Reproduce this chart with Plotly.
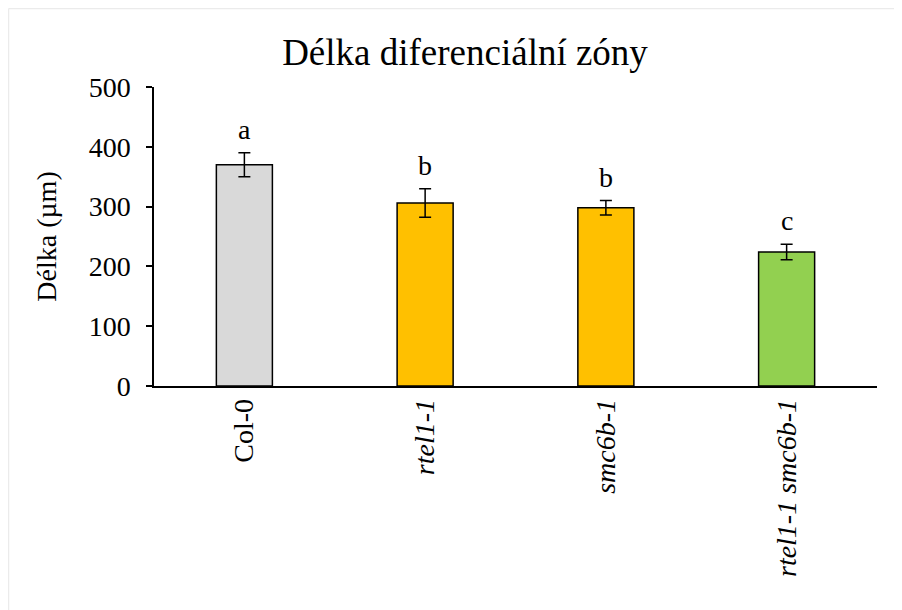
import plotly.graph_objects as go

categories = ["Col-0", "rtel1-1", "smc6b-1", "rtel1-1 smc6b-1"]
tick_labels = ["Col-0", "<i>rtel1-1</i>", "<i>smc6b-1</i>", "<i>rtel1-1 smc6b-1</i>"]
values = [370, 306, 298, 224]
errors = [20, 24, 12, 13]
letters = ["a", "b", "b", "c"]
colors = ["#d9d9d9", "#ffc000", "#ffc000", "#92d050"]

FONT = "Liberation Serif, Times New Roman, serif"

fig = go.Figure()
fig.add_trace(go.Bar(
    x=categories, y=values,
    width=0.31,
    marker=dict(color=colors, line=dict(color="black", width=1.5)),
    error_y=dict(type="data", array=errors, visible=True, color="black", thickness=1.5, width=6),
))

for c, v, e, l in zip(categories, values, errors, letters):
    fig.add_annotation(x=c, y=v + e, text=l, showarrow=False, yanchor="bottom", yshift=6,
                       font=dict(family=FONT, size=28, color="black"))

# light outer frame (top and left edges visible in the reference)
fig.add_shape(type="line", xref="paper", yref="paper", x0=-0.2012, x1=1.3, y0=1.2625, y1=1.2625,
              line=dict(color="#ebebeb", width=1.5), layer="below")
fig.add_shape(type="line", xref="paper", yref="paper", x0=-0.2012, x1=-0.2012, y0=-1.0, y1=1.2625,
              line=dict(color="#ebebeb", width=1.5), layer="below")

fig.update_layout(
    width=894, height=602,
    margin=dict(l=146, r=25, t=79, b=224),
    paper_bgcolor="white", plot_bgcolor="white",
    showlegend=False,
    title=dict(text="Délka diferenciální zóny", x=457 / 894, xanchor="center", xref="container",
               y=1 - 44 / 602, yanchor="middle",
               font=dict(family=FONT, size=37, color="black")),
    font=dict(family=FONT, size=28, color="black"),
)
fig.update_xaxes(
    tickmode="array", tickvals=categories, ticktext=tick_labels, tickangle=-90,
    showline=True, linecolor="black", linewidth=1.5, ticks="",
    tickfont=dict(family=FONT, size=28, color="black"),
    showgrid=False, zeroline=False,
)
fig.update_yaxes(
    range=[0, 500], dtick=100, tick0=0,
    showline=True, linecolor="black", linewidth=1.5,
    ticks="outside", ticklen=6, tickwidth=1.5, tickcolor="black",
    ticklabelstandoff=10,
    tickfont=dict(family=FONT, size=28, color="black"),
    title=dict(text="Délka (µm)", font=dict(family=FONT, size=28, color="black"), standoff=24),
    showgrid=False, zeroline=False,
)

fig.write_html("out.html")
